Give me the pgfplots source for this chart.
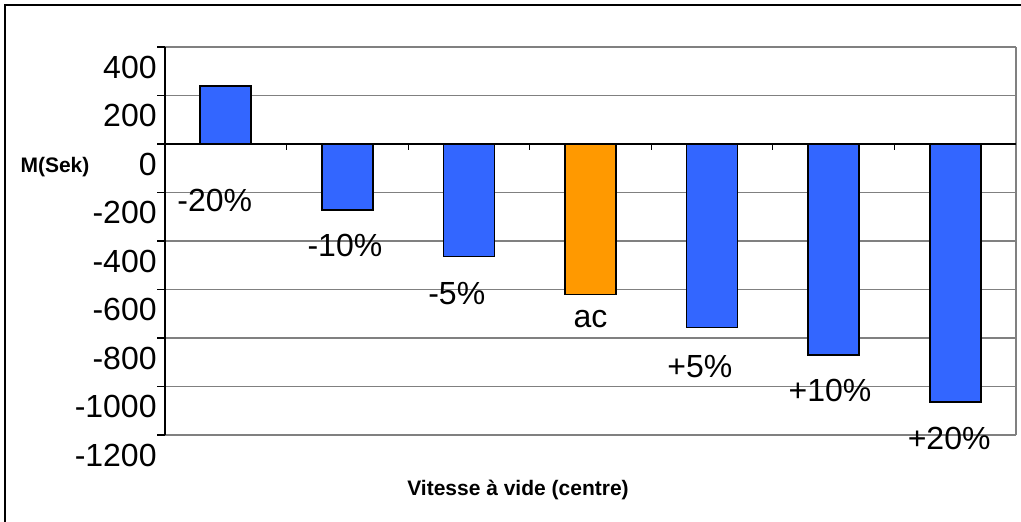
\documentclass[border=0pt]{standalone}
\usepackage{fontspec}
\setmainfont{Liberation Sans}
\usepackage{pgfplots}
\pgfplotsset{compat=1.18}
\definecolor{barblue}{HTML}{3366FF}
\definecolor{barorange}{HTML}{FF9900}
\definecolor{gridgray}{HTML}{808080}
\begin{document}
\begin{tikzpicture}
\useasboundingbox (0,0) rectangle (510.5pt,261pt);
% outer frame (only top and left show)
\draw[line width=0.8pt] (2.5pt,-5pt) -- (2.5pt,258.5pt) -- (520pt,258.5pt);
\begin{axis}[
    at={(82.5pt,43.5pt)}, anchor=south west,
    scale only axis, width=425.5pt, height=194pt,
    xmin=-0.5, xmax=6.5, ymin=-1200, ymax=400,
    xtick=\empty,
    ytick={-1200,-1000,...,400},
    yticklabels={-1200,-1000,-800,-600,-400,-200,0,200,400},
    yticklabel style={font=\fontsize{16}{19}\selectfont, anchor=east, inner sep=0pt, yshift=-10pt},
    ytick pos=left, tick align=outside, major tick length=4pt,
    tick style={black, line width=0.6pt},
    ymajorgrids, grid style={gridgray, line width=0.8pt},
    axis line style={draw=none},
    clip=false,
    ybar, bar width=25.5pt,
]
\addplot[bar shift=0pt, fill=barblue, draw=black, line width=0.8pt] coordinates {
    (0,240) (1,-273) (2,-464) (4,-757) (5,-871) (6,-1063)
};
\addplot[bar shift=0pt, fill=barorange, draw=black, line width=0.8pt] coordinates {
    (3,-621)
};
\draw[gridgray, line width=0.8pt] (rel axis cs:1,0) -- (rel axis cs:1,1);
\draw[black, line width=0.8pt] (rel axis cs:0,0) -- (rel axis cs:0,1);
\draw[black, line width=0.8pt] (axis cs:-0.5,0) -- (axis cs:6.5,0);
\pgfplotsinvokeforeach{0.5,1.5,2.5,3.5,4.5,5.5}{
    \draw[black, line width=0.6pt] (axis cs:#1,0) -- ++(0pt,-3pt);
}
\begin{scope}[every node/.style={font=\fontsize{16}{19}\selectfont, anchor=base, inner sep=0pt}]
\node at (axis cs:-0.09,-277) {-20\%};
\node at (axis cs:0.98,-464) {-10\%};
\node at (axis cs:1.90,-663) {-5\%};
\node at (axis cs:3.0,-758) {ac};
\node at (axis cs:3.90,-961) {+5\%};
\node at (axis cs:4.97,-1060) {+10\%};
\node at (axis cs:5.95,-1259) {+20\%};
\end{scope}
\end{axis}
\node[font=\bfseries\fontsize{10.5}{13}\selectfont, anchor=center] at (27.5pt,177.5pt) {M(Sek)};
\node[font=\bfseries\fontsize{10.5}{13}\selectfont, anchor=base] at (259pt,13pt) {Vitesse à vide (centre)};
\end{tikzpicture}
\end{document}
